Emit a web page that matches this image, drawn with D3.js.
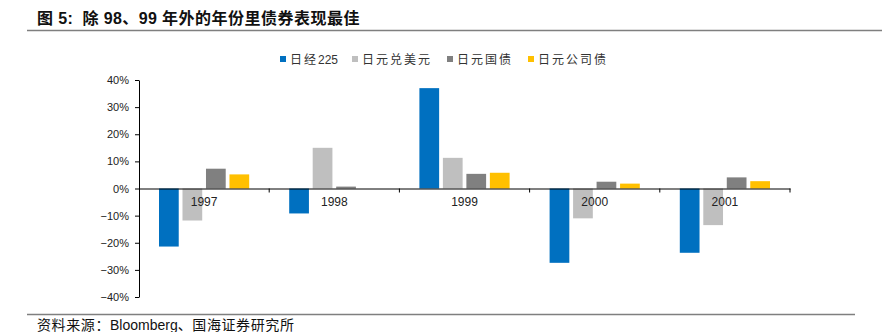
<!DOCTYPE html>
<html><head><meta charset="utf-8">
<script src="https://cdn.jsdelivr.net/npm/d3@7"></script>
<style>body{margin:0;background:#fff;} svg{display:block;}</style>
</head><body>
<svg id="c" width="882" height="332"></svg>
<script>
const categories = ["1997","1998","1999","2000","2001"];
const seriesNames = ["日经225","日元兑美元","日元国债","日元公司债"];
const nikkei = [-21.4, -9.2, 37.0, -27.4, -23.7];
const jpyUsd = [-11.8, 15.0, 11.3, -11.0, -13.5];
const jgb = [7.3, 0.7, 5.4, 2.5, 4.1];
const corp = [5.2, 0.0, 5.8, 1.8, 2.7];
const yTicks = [40, 30, 20, 10, 0, -10, -20, -30, -40];
const colors = ["#0070C0", "#BFBFBF", "#808080", "#FFC000"];
const series = [nikkei, jpyUsd, jgb, corp];

const svg = d3.select("#c");
const font = "Arial, 'Liberation Sans', 'Noto Sans CJK SC', sans-serif";
const cjk = "Arial, 'Liberation Sans', 'Noto Sans CJK SC', sans-serif";

// helper: text with extra spacing only on CJK chars
function spacedText(sel, str, spacing, latinSpacing) {
  const parts = str.match(/[\u3000-\u9fff\uff00-\uffef]+|[^\u3000-\u9fff\uff00-\uffef]+/g);
  parts.forEach(p => {
    const isCjk = /[\u3000-\u9fff\uff00-\uffef]/.test(p);
    sel.append("tspan").attr("letter-spacing", isCjk ? spacing : (latinSpacing || 0)).text(p);
  });
}

// title
const title = svg.append("text").attr("x", 37).attr("y", 24)
  .attr("font-family", cjk)
  .attr("font-size", 16).attr("font-weight", "bold").attr("fill", "#111");
spacedText(title, "图 5:  除 98、99 年外的年份里债券表现最佳", 0.5, 0.3);
title.attr("xml:space", "preserve").style("white-space", "pre");
svg.append("line").attr("x1", 27).attr("x2", 882).attr("y1", 30.5).attr("y2", 30.5)
  .attr("stroke", "#7f7f7f").attr("stroke-width", 1.5);

// bottom rule & source
svg.append("line").attr("x1", 27).attr("x2", 855).attr("y1", 314.5).attr("y2", 314.5)
  .attr("stroke", "#7f7f7f").attr("stroke-width", 1.5);
const src = svg.append("text").attr("x", 37).attr("y", 330)
  .attr("font-family", cjk)
  .attr("font-size", 14).attr("fill", "#111");
spacedText(src, "资料来源：Bloomberg、国海证券研究所", 0.6, 0);

const x0 = d3.scaleBand().domain(categories).range([139, 790]).paddingInner(0).paddingOuter(0);
const x1 = d3.scaleBand().domain(d3.range(4)).range([20, x0.bandwidth() - 20]).paddingInner(0.16);
const y = d3.scaleLinear().domain([-40, 40]).range([297, 80]);

// bars
categories.forEach((c, i) => {
  series.forEach((s, j) => {
    const v = s[i];
    svg.append("rect")
      .attr("x", x0(c) + x1(j))
      .attr("width", x1.bandwidth())
      .attr("y", y(Math.max(0, v)))
      .attr("height", Math.abs(y(v) - y(0)))
      .attr("fill", colors[j]);
  });
});

// y axis
const yAxis = d3.axisLeft(y).tickValues(yTicks).tickSize(4).tickSizeOuter(0)
  .tickFormat(d => (d < 0 ? "\u2212" + Math.abs(d) : d) + "%");
const gy = svg.append("g").attr("transform", "translate(139,0)").call(yAxis);
gy.select(".domain").attr("stroke", "#000");
gy.selectAll(".tick line").attr("stroke", "#000");
gy.selectAll("text").attr("font-family", font).attr("font-size", 11).attr("fill", "#222").attr("x", -10);

// x axis at zero
const xAxis = d3.axisBottom(x0).tickSize(0).tickSizeOuter(0);
const gx = svg.append("g").attr("transform", `translate(0,${y(0)})`).call(xAxis);
gx.select(".domain").attr("stroke", "#000");
gx.selectAll("text").attr("font-family", font).attr("font-size", 12).attr("fill", "#222").attr("dy", "0.71em").attr("y", 9);
// category boundary ticks
svg.selectAll(".bt").data(categories).enter().append("line")
  .attr("x1", d => x0(d) + x0.bandwidth()).attr("x2", d => x0(d) + x0.bandwidth())
  .attr("y1", y(0)).attr("y2", y(0) + 4).attr("stroke", "#000");

// legend
const legX = [280, 352, 447, 528];
const lg = svg.append("g");
seriesNames.forEach((n, j) => {
  lg.append("rect").attr("x", legX[j]).attr("y", 56).attr("width", 6).attr("height", 6).attr("fill", colors[j]);
  const t = lg.append("text").attr("x", legX[j] + 10).attr("y", 64)
    .attr("font-family", cjk)
    .attr("font-size", 12).attr("fill", "#333");
  spacedText(t, n, 2);
});
</script>
</body></html>
